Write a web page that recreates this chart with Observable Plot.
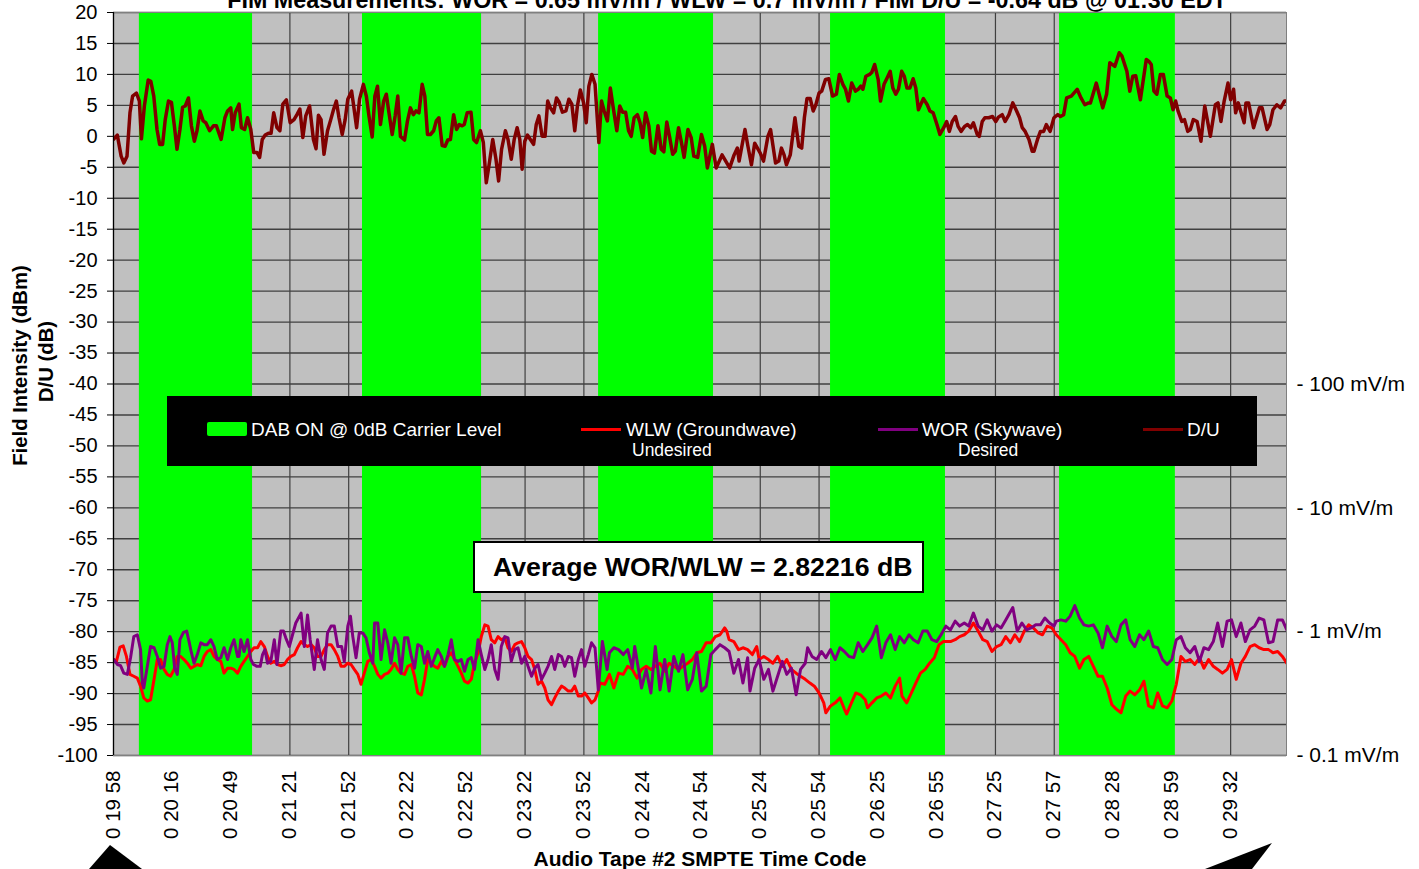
<!DOCTYPE html>
<html>
<head>
<meta charset="utf-8">
<script src="https://cdn.jsdelivr.net/npm/d3@7"></script>
<script src="https://cdn.jsdelivr.net/npm/@observablehq/plot@0.6"></script>
<style>
  html, body { margin: 0; padding: 0; background: #fff; overflow: hidden; }
  #wrap { position: relative; width: 1419px; height: 869px; font-family: "Liberation Sans", Arial, sans-serif; }
  #wrap > svg { position: absolute; left: 0; top: 0; }
  .legend { position: absolute; left: 167px; top: 396px; width: 1090px; height: 70px; background: #000; color: #fff; font-size: 19px; }
  .legend span { position: absolute; white-space: nowrap; line-height: 20px; }
  .legend .sw { position: absolute; }
  .avg { position: absolute; left: 473px; top: 541px; width: 451px; height: 52px; box-sizing: border-box;
         border: 2px solid #000; background: #fff; font-weight: bold; font-size: 26.7px; line-height: 48px;
         padding-left: 18px; white-space: nowrap; color: #000; }
  .arrows { position: absolute; left: 0; top: 0; pointer-events: none; }
</style>
</head>
<body>
<div id="wrap"></div>
<script>
// Sample number along the tape, value in dB / dBm.
const dabOnSpans = [[8.8, 47.3], [84.7, 125.2], [165, 204.1], [243.9, 283], [321.8, 361.2]];

const yTickValues = [20, 15, 10, 5, 0, -5, -10, -15, -20, -25, -30, -35, -40, -45, -50, -55, -60, -65, -70, -75, -80, -85, -90, -95, -100];

const timeCodeSample = [0, 20, 40, 60, 80, 100, 120, 140, 160, 180, 200, 220, 240, 260, 280, 300, 320, 340, 360, 380];
const timeCodeLabels = ["0 19 58", "0 20 16", "0 20 49", "0 21 21", "0 21 52", "0 22 22", "0 22 52", "0 23 22", "0 23 52", "0 24 24",
                        "0 24 54", "0 25 24", "0 25 54", "0 26 25", "0 26 55", "0 27 25", "0 27 57", "0 28 28", "0 28 59", "0 29 32"];

const fieldRefValues = [-40, -60, -80, -100];
const fieldRefLabels = ["- 100 mV/m", "- 10 mV/m", "- 1 mV/m", "- 0.1 mV/m"];

// D/U (dB)
const duRatio = [
  [0,-0.5],[1.3,0.2],[2.6,-3.2],[3.5,-4.3],[4.6,-3.2],[5.6,3.8],[6.5,6.5],[7.8,7],[8.8,5.7],[9.5,-0.4],[10.5,4.9],[11.8,9.1],[12.7,8.9],[13.7,6.5],[14.8,1.1],[15.7,-1.3],[16.7,-1.3],[17.6,2.7],[18.7,5.7],[19.7,5.5],
  [20.7,1.7],[21.6,-2.1],[22.6,1.1],[23.5,4.7],[24.4,4.9],[25.5,6.2],[26.5,1.7],[27.5,-0.8],[28.4,0.9],[29.4,4.1],[30.5,2.5],[31.4,2.2],[32.7,0.9],[34,1.7],[35,1.7],[36.6,-0.5],[37.9,3],[38.8,4.1],[39.9,4.6],[40.5,1.1],
  [41.4,3.8],[42.7,5.2],[43.5,1.4],[44.6,1.1],[45.6,3],[46.7,1.1],[47.7,-2.6],[48.8,-2.6],[49.7,-3.4],[50.6,-0.5],[51.6,0.2],[52.7,0.5],[53.6,0.5],[54.5,3.8],[55.6,1.4],[56.6,0.9],[57.6,5.2],[58.8,5.9],[60.1,2.2],[61.4,2.7],
  [62.4,3.5],[63.4,4.4],[64.4,-0.2],[65.4,3.3],[66.7,4.9],[68,-0.5],[68.9,-2],[69.7,3.4],[70.6,2.7],[71.6,-2.9],[72.8,0.9],[73.9,2.7],[74.9,4.4],[75.8,5.7],[76.7,3],[77.8,0.3],[78.8,2.7],[79.7,6],[81,7.3],[81.7,4.9],
  [82.7,1.4],[83.7,6],[85,8.4],[86,6.5],[86.9,3.3],[88,-0.1],[88.9,6.5],[89.8,8.1],[90.8,1.9],[91.9,5.7],[92.8,6.8],[93.7,3.8],[94.8,0.3],[95.8,3.3],[96.7,6.5],[97.6,0],[99,-0.6],[100,2.5],[101,4.6],[102,3.5],
  [102.9,4.1],[103.9,3.8],[105,8.4],[105.9,6.5],[106.8,0.3],[107.8,0.3],[108.9,0.9],[109.8,2.5],[110.7,3],[111.8,-1.5],[112.8,-1.6],[113.7,-0.6],[114.6,-0.5],[115.7,3.5],[116.7,1.1],[117.6,1.9],[118.6,1.7],[119.3,1.9],[120.3,3.8],[121.6,3.9],
  [122.5,-0.5],[123.5,-1],[124.8,0.9],[125.8,-1],[126.8,-7.5],[127.7,-4.8],[129,-0.5],[130.1,-3.7],[131,-7.2],[132,-2.1],[133.3,0.9],[134.2,-0.5],[135.3,-3.7],[136.3,-0.5],[137.3,1.4],[138.2,-0.5],[139,-5.3],[139.9,-0.8],[140.8,0.2],[141.8,-0.5],
  [142.9,-1.3],[143.8,1.9],[144.7,3.3],[145.8,0],[146.8,0],[147.7,5.7],[148.6,4.6],[149.7,3.8],[150.7,6.2],[151.6,5.5],[152.7,3.9],[153.9,4.1],[154.9,6],[155.9,5.2],[156.9,0.9],[157.8,4.9],[158.8,7.5],[159.9,5.4],[160.8,2.2],[161.7,8.1],
  [162.7,10],[163.8,8.4],[165.1,-1],[166,5.7],[166.9,4.1],[168,2.5],[169,7.8],[169.9,4.9],[171.2,0.9],[172.2,4.9],[173.2,3.9],[174.2,3.9],[175.2,0.9],[176.1,0],[177.1,3],[178.2,3.5],[179.1,2.2],[180,-0.2],[181,3.8],[182.1,1.7],
  [183,-2.4],[184,-2.7],[185.2,1.7],[186.3,-2.1],[187.2,-2.5],[188.2,2.3],[189.2,-0.2],[190.2,-2.9],[191.1,-2.4],[192.2,1.4],[193.1,-0.8],[194.1,-3.4],[195.4,1.1],[196.5,-0.2],[197.4,-3.2],[198.7,-3.4],[200,0.3],
  [201.1,-1.6],[202,-5.1],[203.7,-1.3],[205,-5.1],[207,-3.0],[209.6,-5.1],[211.1,-3.0],[212.2,-1.9],[212.8,-4.0],[214.8,1.1],[215.8,-1.6],[217,-4.6],[218.1,-1.1],[220,-2.7],[221.1,-4.0],[222.6,0],[223.5,1.1],[225.2,-4.3],[226.3,-4.0],[227.2,-1.9],
  [228.1,-3.0],[228.9,-4.6],[230.2,-3.0],[231.8,3.0],[233.1,-1.6],[234.1,-1.9],[235,3.0],[235.9,6.1],[237,6.1],[238,4.1],[238.9,5.1],[240,7.0],[240.9,7.3],[242.2,9.2],[243.3,9.3],[244.6,6.5],[245.9,6.8],[246.9,10],[248.1,8.4],[249,7.6],
  [250,5.7],[251.1,8.6],[252.4,7.3],[253.3,7.6],[254.2,8.1],[254.9,7.6],[255.9,9.7],[257.2,10],[257.9,10.3],[258.9,11.6],[260.1,9.2],[260.9,5.7],[262.1,8.4],[263.1,9.4],[264.2,10.5],[265.1,7.8],[266.1,6.8],[267,7.6],[268.1,10.5],[269,9.7],
  [269.9,7.8],[270.9,7.8],[272,9.3],[272.9,7.8],[273.8,4.3],[275.5,6.1],[276.8,5.1],[277.7,4.1],[278.8,3.8],[280.1,1.9],[281.1,0.3],[282.4,1.4],[283.4,2.4],[284.3,0.8],[285.3,2.4],[286.4,3.2],[287.3,1.6],[288.3,0.8],[289.5,1.6],[290.5,1.9],
  [291.6,1.4],[292.5,2.2],[293.8,0.3],[294.5,0],[295.5,2.4],[296.4,3.0],[297.7,3.0],[299,3.2],[300.1,2.4],[301,3.1],[302.3,3.5],[303.3,2.4],[304.6,3.5],[305.9,5.4],[307.2,4.1],[308.2,3.0],[309.1,1.4],[310.1,0.8],[311.4,-0.5],[312.5,-2.4],
  [313.1,-2.4],[314.3,-0.5],[315.3,0.8],[316.4,0.8],[317.3,1.9],[318.6,0.8],[319.9,3.0],[321.2,3.5],[322.1,3.2],[323.2,3.5],[324.2,6.2],[325.8,6.5],[327.8,7.6],[329.1,6.2],[330.4,5.1],[331.7,5.4],[332.3,5.4],[334.3,8.6],[335.6,6.2],[336.5,4.6],
  [337.8,6.8],[338.9,11.9],[340.6,11.3],[342.1,13.5],[343,13.0],[344.7,10.5],[345.7,7.3],[346.7,9.7],[347.7,9.8],[349.3,5.9],[351.3,12.4],[352.2,12.1],[353,11.6],[353.9,7.3],[354.9,6.8],[356.1,10],[357.1,10],[358.4,6.5],[359.5,6.2],[360.4,4.3],
  [361.3,5.7],[362.1,4.1],[363.4,2.4],[364.3,2.7],[365.4,0.8],[366.3,1.1],[367.3,2.7],[368.6,2.4],[369.9,-0.8],[371.2,4.9],[373.1,0],[374.8,5.1],[375.7,5.4],[376.7,2.4],[377.8,5.7],[379.1,8.6],[380,5.9],[381,7.6],[381.7,3.8],[382.6,5.4],
  [384.6,2.2],[385.2,5.4],[386.1,5.4],[387.8,1.4],[389.8,4.6],[390.7,4.6],[392.4,1.1],[393.3,1.9],[394.4,4.3],[395.7,5.1],[397,4.6],[398.3,5.7],[399.6,5.7]
];

// WLW (Groundwave), undesired, dBm
const wlwGroundwave = [
  [0.1,-84.5],[1,-84.8],[2.2,-82.5],[3.3,-82.3],[4.4,-84.0],[5.6,-86.9],[6.9,-87.2],[8.1,-87.5],[9.2,-88.8],[10.3,-90.7],[11.5,-91.2],[12.6,-91.0],[13.8,-87.7],[14.9,-84.5],[16,-84.5],[17.2,-86.1],[18.3,-86.9],[19.4,-87.2],[20.6,-86.1],[21.7,-84.0],
  [22.8,-84.0],[24,-84.5],[25.1,-85.1],[26.3,-85.9],[27.4,-85.6],[28.5,-85.3],[29.7,-85.5],[30.8,-84.0],[31.9,-83.2],[33.1,-82.9],[34.2,-84.0],[35.3,-84.5],[36.5,-84.8],[37.6,-86.7],[38.8,-85.9],[39.9,-85.9],[41,-86.1],[42.2,-86.7],[43.3,-85.6],[44.4,-84.8],
  [45.6,-84.0],[46.7,-83.2],[47.8,-82.6],[49,-82.6],[50.1,-81.6],[51.3,-82.4],[52.4,-84.0],[53.5,-85.1],[54.7,-84.8],[55.8,-85.3],[56.9,-85.5],[58.1,-85.3],[59.2,-84.5],[60.3,-84.0],[61.5,-83.7],[62.6,-82.6],[63.8,-81.6],[64.9,-82.1],[66,-82.4],[67.2,-82.1],
  [68.3,-82.6],[69.4,-84.0],[70.6,-84.0],[71.7,-82.9],[72.8,-82.1],[74,-82.1],[75.1,-82.9],[76.3,-84.0],[77.4,-85.6],[78.5,-85.6],[79.7,-85.1],[80.8,-85.3],[81.9,-86.1],[83.1,-86.9],[84.2,-88.5],[85.3,-86.7],[86.5,-84.8],[87.6,-84.5],[88.8,-85.6],[89.9,-86.9],
  [91,-87.5],[92.2,-86.9],[93.3,-86.7],[94.4,-86.1],[95.6,-85.1],[96.7,-86.1],[97.8,-86.7],[99,-86.9],[100.1,-85.6],[101.3,-85.3],[102.4,-87.2],[103.5,-89.9],[104.7,-90.2],[105.8,-87.7],[106.9,-84.5],[108.1,-85.1],[109.2,-85.6],[110.3,-85.9],[111.5,-84.8],[112.6,-85.6],
  [113.8,-84.0],[114.9,-83.4],[116,-84.5],[117.2,-85.6],[118.3,-86.7],[119.4,-88.0],[120.6,-88.3],[121.7,-87.7],[122.8,-85.1],[124,-83.4],[125.1,-80.8],[126.3,-78.9],[127.4,-79.1],[128.5,-81.3],[129.7,-81.8],[130.8,-80.8],[131.9,-81.3],[133.1,-81.0],[134.2,-82.6],[135.3,-83.2],
  [136.5,-82.1],[137.6,-81.8],[138.8,-81.6],[139.9,-82.6],[141,-84.0],[142.2,-84.5],[143.3,-86.1],[144.4,-88.5],[145.6,-88.0],[146.7,-89.1],[147.8,-91.0],[149,-91.8],[150.1,-90.7],[151.3,-89.6],[152.4,-88.8],[153.5,-89.1],[154.7,-89.6],[155.8,-89.6],[156.9,-88.8],[158.1,-90.4],
  [159.2,-90.4],[160.3,-89.9],[161.5,-90.7],[162.6,-91.5],[163.8,-91.0],[164.9,-89.6],[165.5,-88.3],[167.1,-88.5],[168.7,-86.9],[170.2,-89.1],[171.8,-86.7],[173.4,-86.9],[174.9,-85.6],[176.5,-86.1],[178.1,-87.5],[179.6,-86.1],[181.2,-85.6],[182.8,-86.1],[184.3,-85.6],[185.9,-85.1],
  [187.5,-86.4],[189,-85.1],[190.6,-85.6],[192.2,-86.1],[193.7,-85.6],[195.3,-85.1],[196.9,-84.5],[198.4,-83.4],[200,-83.2],[201.6,-81.8],[203.2,-81.8],[204.7,-80.8],[206.3,-80.5],[207.9,-79.4],[208.6,-79.9],[209.4,-81.3],[211,-81.6],[212.6,-82.9],[214.1,-82.6],[215.7,-82.9],
  [217.3,-83.7],[218.8,-82.4],[219.6,-84.5],[221.2,-84.0],[222.8,-84.5],[224.3,-85.1],[225.9,-84.0],[227.5,-85.6],[229,-84.5],[230.6,-86.1],[232.2,-86.7],[233.7,-87.2],[235.3,-87.7],[236.9,-88.3],[238.4,-88.8],[240,-89.9],[241.6,-91.5],[242.3,-93.1],[243.9,-92.0],[245.5,-91.5],
  [247.1,-90.7],[248.6,-92.5],[249.4,-93.3],[251,-91.5],[252.5,-89.9],[254.1,-90.2],[255.7,-91.0],[256.5,-92.3],[258,-91.5],[259.6,-90.7],[261.2,-90.4],[262.7,-89.9],[264.3,-90.7],[265.9,-88.8],[267.4,-87.5],[268.2,-90.4],[269.8,-91.5],[271.4,-89.9],[272.9,-88.3],[274.5,-86.7],
  [276.1,-86.1],[277.6,-85.1],[279.2,-84.2],[280.8,-82.1],[282.3,-81.6],[284.7,-81.6],[286.3,-81.3],[287.8,-80.8],[289.4,-80.5],[290.9,-79.9],[292.5,-78.6],[294.1,-79.9],[295.7,-81.3],[297.2,-81.6],[298.8,-83.2],[300.4,-82.4],[301.9,-82.1],[303.5,-80.8],[305.1,-81.8],[306.6,-80.5],
  [308.2,-81.6],[309.8,-79.9],[311.3,-78.9],[312.9,-79.4],[314.5,-80.2],[316,-80.5],[317.6,-79.1],[319.2,-79.4],[320.7,-80.5],[322.3,-81.3],[323.9,-82.1],[325.4,-83.4],[327,-84.0],[328.6,-85.9],[330.1,-84.5],[331.7,-84.0],[333.3,-85.6],[334.9,-87.2],[336.4,-87.2],[338,-89.1],
  [339.6,-91.8],[341.1,-92.5],[342.7,-93.1],[344.3,-90.4],[345.8,-89.6],[347.4,-90.2],[349,-89.4],[350.5,-88.0],[352.1,-92.0],[353.7,-92.3],[355.2,-89.9],[356.8,-92.0],[358.4,-92.3],[360,-91.2],[361.5,-88.5],[363.1,-84.0],[364.6,-84.8],[366.2,-84.5],[367.8,-85.3],[369.4,-84.2],
  [370.9,-85.9],[372.5,-84.5],[374.1,-85.6],[375.6,-86.1],[377.2,-86.7],[378.8,-86.1],[380.3,-84.5],[381.9,-87.7],[383.5,-85.1],[385,-84.0],[386.6,-82.4],[388.2,-82.1],[389.7,-82.6],[391.3,-82.9],[392.9,-82.9],[394.4,-83.4],[396,-83.2],[397.6,-84.0],[399.1,-85.1],[400,-83.7]
];

// WOR (Skywave), desired, dBm
const worSkywave = [
  [0.1,-84.5],[1.3,-85.3],[2.4,-85.5],[3.5,-86.7],[4.7,-86.9],[5.8,-84.2],[6.9,-80.8],[8.1,-80.5],[9.2,-82.9],[9.8,-88.3],[10.3,-89.1],[11.5,-85.6],[12.6,-82.4],[13.8,-82.6],[14.9,-84.0],[16,-85.9],[17.2,-85.6],[18.3,-82.1],[19.2,-80.8],[20,-81.8],
  [20.8,-85.9],[21.7,-86.9],[22.6,-81.3],[23.8,-80.1],[24.9,-79.9],[25.7,-81.6],[26.5,-83.4],[27.4,-85.1],[28.5,-83.7],[29.7,-81.8],[30.8,-82.1],[31.9,-82.1],[33.1,-81.3],[34.2,-82.4],[35.3,-84.5],[36.5,-84.2],[37.6,-82.6],[38.8,-84.5],[39.9,-82.6],[41,-81.3],
  [42.2,-84.0],[42.7,-84.0],[43.3,-81.3],[44.4,-83.2],[45.6,-81.3],[46.7,-84.5],[47.6,-85.3],[48.8,-85.6],[49.9,-85.6],[50.7,-83.7],[51.5,-82.9],[52.4,-85.1],[53.5,-84.8],[54.7,-81.3],[55.6,-85.3],[56.9,-79.9],[57.8,-79.9],[58.6,-81.0],[59.8,-82.4],[60.9,-80.5],
  [62,-78.6],[63.8,-77.0],[64.9,-82.4],[66,-77.3],[66.9,-81.3],[68.3,-86.1],[69.4,-81.3],[70.6,-84.5],[71.7,-86.1],[72.8,-80.2],[74,-79.1],[75.1,-79.1],[76.3,-82.4],[77.6,-82.4],[78.5,-84.8],[79.7,-79.1],[80.6,-77.5],[81.4,-80.8],[82.5,-84.2],[83.6,-80.2],
  [84.8,-80.2],[85.9,-81.0],[87,-83.4],[88.2,-85.1],[88.8,-78.6],[89.9,-78.6],[91,-84.5],[92.2,-79.7],[93.3,-81.8],[94.4,-85.1],[95.6,-81.0],[96.7,-82.1],[97.8,-86.7],[99,-81.0],[100.1,-81.0],[101.3,-84.0],[102.4,-85.9],[103.5,-82.1],[104.7,-82.4],[105.8,-85.1],
  [106.9,-83.2],[108.1,-85.6],[109.2,-84.2],[110.3,-82.9],[111.5,-84.0],[112.6,-85.6],[113.8,-83.7],[114.9,-81.3],[116,-84.5],[117.2,-84.8],[118.3,-84.5],[119.4,-86.4],[120.6,-84.5],[121.7,-84.2],[122.8,-86.1],[124,-81.3],[125.1,-83.7],[126.3,-86.1],[127.4,-84.5],[128.5,-82.1],
  [129.7,-86.1],[130.8,-87.7],[131.9,-82.4],[133.1,-80.8],[134.2,-81.0],[135.3,-84.8],[136.5,-82.9],[137.6,-82.6],[138.8,-85.1],[139.9,-84.0],[141,-85.6],[142.2,-87.2],[143.3,-85.9],[144.4,-85.3],[145.6,-87.7],[146.7,-86.7],[147.8,-85.6],[149,-84.0],[150.1,-86.1],[151.3,-83.7],
  [152.4,-84.0],[153.5,-85.6],[154.7,-84.0],[155.8,-84.2],[156.9,-87.2],[158.1,-84.5],[159.2,-82.9],[160.3,-85.6],[161.5,-83.7],[162.6,-81.8],[163.8,-82.6],[164.9,-89.4],[166.3,-81.6],[167.9,-86.1],[168.7,-83.4],[170.2,-82.6],[171.8,-82.9],[173.4,-83.7],[174.9,-82.9],[176.5,-85.9],
  [177.3,-82.4],[178.8,-86.7],[179.6,-89.1],[181.2,-86.1],[182.8,-89.9],[184.3,-82.4],[185.9,-89.4],[187.5,-84.5],[189,-89.6],[190.6,-84.0],[192.2,-86.4],[193.7,-83.7],[195.3,-89.4],[196.9,-87.7],[198.4,-83.4],[200,-89.6],[201.6,-88.8],[203.2,-83.7],[204.7,-82.9],[206.3,-82.1],
  [207.9,-82.6],[209.4,-83.2],[211,-86.7],[212.6,-84.5],[214.1,-88.3],[215.7,-84.2],[216.5,-89.6],[218.1,-85.9],[219.6,-84.5],[221.2,-87.7],[222.8,-86.1],[224.3,-89.6],[225.9,-87.2],[227.5,-84.8],[229,-86.9],[230.6,-85.9],[232.2,-90.2],[233.7,-86.1],[235.3,-85.1],[236.1,-82.6],
  [237.6,-84.0],[239.2,-84.5],[240.8,-83.2],[242.3,-84.2],[243.9,-82.9],[245.5,-84.5],[247.1,-82.6],[248.6,-83.2],[250.2,-84.0],[251.8,-84.2],[253.3,-81.8],[254.9,-83.2],[256.5,-82.1],[258,-81.0],[259.6,-79.1],[261.2,-84.2],[262.7,-81.8],[264.3,-80.5],[265.9,-82.9],[267.4,-80.8],
  [269,-81.8],[270.6,-80.5],[272.1,-81.3],[273.7,-81.8],[275.3,-79.9],[276.8,-79.9],[278.4,-81.3],[280,-81.6],[281.5,-80.5],[283.1,-79.1],[284.7,-79.7],[286.3,-78.3],[287.8,-79.1],[289.4,-78.6],[290.9,-79.1],[292.5,-77.0],[294.1,-79.1],[295.7,-79.7],[297.2,-78.1],[298.8,-79.9],
  [300.4,-78.9],[301.9,-79.4],[303.5,-78.1],[305.9,-76.1],[307.4,-79.9],[309,-78.6],[310.6,-79.7],[312.1,-79.4],[313.7,-78.9],[315.3,-78.9],[316.8,-77.8],[318.4,-78.6],[319.9,-79.1],[320.7,-78.3],[322.3,-78.1],[323.9,-78.3],[325.4,-77.5],[327,-75.8],[328.6,-77.8],[330.1,-78.9],
  [331.7,-79.1],[333.3,-78.9],[334.9,-80.2],[336.4,-82.6],[338,-79.1],[339.6,-80.8],[341.1,-81.6],[342.7,-78.9],[344.3,-78.1],[345.8,-81.3],[347.4,-82.4],[349,-80.5],[350.5,-81.3],[352.1,-79.9],[353.7,-82.4],[355.2,-82.6],[356.8,-84.5],[358.4,-85.3],[360,-84.5],[361.5,-81.3],
  [363.1,-80.8],[364.6,-82.6],[366.2,-83.4],[367.8,-82.4],[369.4,-84.8],[370.9,-82.6],[372.5,-82.9],[374.1,-81.6],[375.6,-78.6],[377.2,-82.4],[378.8,-78.3],[380.3,-78.1],[381.9,-80.8],[383.5,-78.6],[385,-81.6],[386.6,-79.7],[388.2,-79.1],[389.7,-77.8],[391.3,-78.1],[392.9,-81.8],
  [394.4,-81.6],[396,-78.1],[397.6,-78.1],[399.1,-79.7],[400,-78.1]
];

const titleText = "FIM Measurements: WOR = 0.65 mV/m / WLW = 0.7 mV/m / FIM D/U = -0.64 dB @ 01:30 EDT";
const averageText = "Average WOR/WLW = 2.82216 dB";

const chart = Plot.plot({
  width: 1419,
  height: 869,
  marginLeft: 113,
  marginRight: 133,
  marginTop: 12,
  marginBottom: 114,
  style: { fontFamily: "'Liberation Sans', Arial, sans-serif", background: "#fff", color: "#000" },
  x: { domain: [0, 399], axis: null },
  y: { domain: [-100, 20], axis: null },
  marks: [
    Plot.frame({ fill: "#c0c0c0" }),
    Plot.gridY(yTickValues, { stroke: "#404040", strokeOpacity: 1, strokeWidth: 1.4 }),
    Plot.gridX(timeCodeSample, { stroke: "#404040", strokeOpacity: 1, strokeWidth: 1.2 }),
    // DAB ON periods
    Plot.rect(dabOnSpans, { x1: d => d[0], x2: d => d[1], fill: "#00ff00" }),
    Plot.line(wlwGroundwave, { stroke: "#ff0000", strokeWidth: 3, strokeLinejoin: "round", clip: true }),
    Plot.line(worSkywave, { stroke: "#800080", strokeWidth: 3, strokeLinejoin: "round", clip: true }),
    Plot.line(duRatio, { stroke: "#800000", strokeWidth: 3.5, strokeLinejoin: "round", clip: true }),
    Plot.frame({ stroke: "#808080" }),
    Plot.ruleX([0], { stroke: "#000", strokeWidth: 1.2 }),
    Plot.axisY(yTickValues, { tickSize: 6, tickPadding: 10, fontSize: 20, tickFormat: d => String(d), label: null, stroke: "#000" }),
    // Time-code labels under the axis
    Plot.text(timeCodeLabels, { x: (d, i) => timeCodeSample[i], frameAnchor: "bottom", dx: 6, dy: 15, rotate: -90, textAnchor: "end", fontSize: 20.5, fill: "#000" }),
    // Field-strength reference labels on the right
    Plot.text(fieldRefLabels, { x: 399, y: (d, i) => fieldRefValues[i], textAnchor: "start", dx: 10, fontSize: 21, fill: "#000" }),
    // Titles
    Plot.text([titleText], { frameAnchor: "top", lineAnchor: "bottom", dy: -5, dx: 27, fontSize: 23.3, fontWeight: "bold", fill: "#000" }),
    Plot.text(["Audio Tape #2 SMPTE Time Code"], { frameAnchor: "bottom", lineAnchor: "bottom", dy: 110, fontSize: 21, fontWeight: "bold", fill: "#000" }),
    Plot.text(["Field Intensity (dBm)"], { frameAnchor: "left", textAnchor: "middle", dx: -93, dy: -18.5, rotate: -90, fontSize: 20.3, fontWeight: "bold", fill: "#000" }),
    Plot.text(["D/U (dB)"], { frameAnchor: "left", textAnchor: "middle", dx: -67, dy: -22.5, rotate: -90, fontSize: 20.3, fontWeight: "bold", fill: "#000" })
  ]
});

const wrap = document.getElementById("wrap");
wrap.appendChild(chart);

// Legend
const legend = document.createElement("div");
legend.className = "legend";
legend.innerHTML = `
  <div class="sw" style="left:40px;top:26px;width:40px;height:14px;background:#00ff00;border-radius:2px"></div>
  <span style="left:84px;top:24px">DAB ON @ 0dB Carrier Level</span>
  <div class="sw" style="left:414px;top:32px;width:40px;height:3px;background:#ff0000"></div>
  <span style="left:459px;top:24px">WLW (Groundwave)</span>
  <span style="left:465px;top:44px;font-size:17.5px">Undesired</span>
  <div class="sw" style="left:711px;top:32px;width:40px;height:3px;background:#800080"></div>
  <span style="left:755px;top:24px">WOR (Skywave)</span>
  <span style="left:791px;top:44px;font-size:17.5px">Desired</span>
  <div class="sw" style="left:976px;top:32px;width:40px;height:3px;background:#800000"></div>
  <span style="left:1020px;top:24px">D/U</span>`;
wrap.appendChild(legend);

// Average ratio note
const avg = document.createElement("div");
avg.className = "avg";
avg.textContent = averageText;
wrap.appendChild(avg);

// Arrow heads along the bottom edge
const ns = "http://www.w3.org/2000/svg";
const arrows = document.createElementNS(ns, "svg");
arrows.setAttribute("class", "arrows");
arrows.setAttribute("width", 1419);
arrows.setAttribute("height", 869);
for (const pts of ["89,869 110,845 142,869", "1205,869 1272,843 1252,869"]) {
  const p = document.createElementNS(ns, "polygon");
  p.setAttribute("points", pts);
  p.setAttribute("fill", "#000");
  arrows.appendChild(p);
}
wrap.appendChild(arrows);
</script>
</body>
</html>
